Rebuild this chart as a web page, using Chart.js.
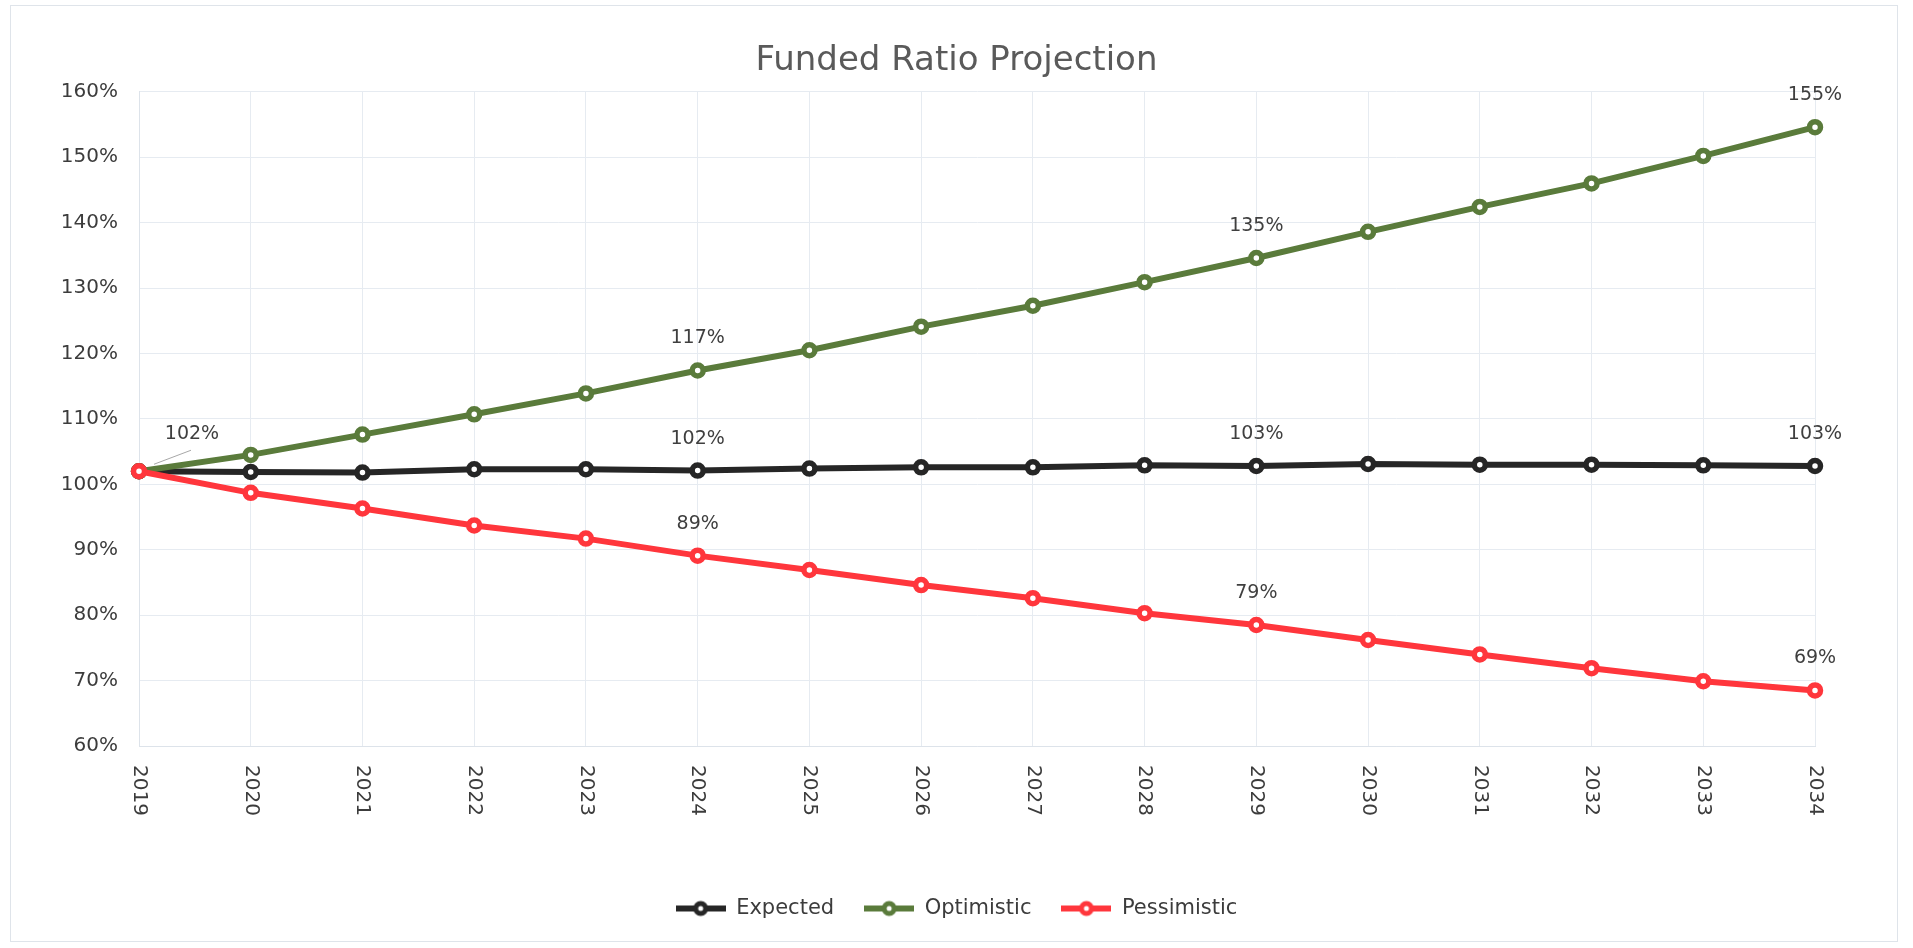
<!DOCTYPE html>
<html>
<head>
<meta charset="utf-8">
<script src="https://cdn.jsdelivr.net/npm/chart.js@4.4.1/dist/chart.umd.min.js"></script>
<style>
  html, body { margin: 0; padding: 0; background: #ffffff; }
  #wrap { width: 1913px; height: 948px; position: relative; }
</style>
</head>
<body>
<div id="wrap"><canvas id="c" width="1913" height="948"></canvas></div>
<script>
// ---- Data ----
const years = ['2019','2020','2021','2022','2023','2024','2025','2026','2027','2028','2029','2030','2031','2032','2033','2034'];
const expected    = [102.0, 101.9, 101.8, 102.3, 102.3, 102.1, 102.4, 102.6, 102.6, 102.9, 102.8, 103.1, 103.0, 103.0, 102.9, 102.8];
const optimistic  = [102.0, 104.5, 107.6, 110.7, 113.9, 117.4, 120.5, 124.1, 127.3, 130.9, 134.6, 138.6, 142.4, 146.0, 150.2, 154.6];
const pessimistic = [102.0, 98.7, 96.3, 93.7, 91.7, 89.1, 86.9, 84.6, 82.6, 80.3, 78.5, 76.2, 74.0, 71.9, 69.9, 68.5];
const seriesNames = ['Expected', 'Optimistic', 'Pessimistic'];
const labelledIdx = [5, 10, 15];
const yMin = 60, yMax = 160, yStep = 10;

const colors = ['#262626', '#5a7b3b', '#ff363c'];
const FONT = "'DejaVu Sans', sans-serif";

function legendSymbol(color) {
  const cv = document.createElement('canvas');
  cv.width = 50; cv.height = 20;
  const g = cv.getContext('2d');
  g.strokeStyle = color; g.lineWidth = 6; g.lineCap = 'butt';
  g.beginPath(); g.moveTo(0, 10); g.lineTo(50, 10); g.stroke();
  g.beginPath(); g.arc(25, 10, 5, 0, Math.PI * 2);
  g.fillStyle = '#ffffff'; g.fill();
  g.lineWidth = 5; g.stroke();
  return cv;
}
const symbols = colors.map(legendSymbol);

const framePlugin = {
  id: 'frame',
  beforeDraw(chart) {
    const ctx = chart.ctx;
    ctx.save();
    ctx.fillStyle = '#ffffff';
    ctx.fillRect(0, 0, chart.width, chart.height);
    ctx.strokeStyle = '#dfe4ea';
    ctx.lineWidth = 1;
    ctx.strokeRect(10.5, 5.5, 1887, 936);
    ctx.restore();
  }
};

const xLabelPlugin = {
  id: 'xlabels',
  afterDraw(chart) {
    const ctx = chart.ctx;
    const xs = chart.scales.x;
    const top = chart.chartArea.bottom + 19;
    ctx.save();
    ctx.font = "20px " + FONT;
    ctx.fillStyle = '#3c3c3c';
    ctx.textAlign = 'left';
    ctx.textBaseline = 'middle';
    years.forEach((lab, i) => {
      const x = xs.getPixelForValue(i);
      ctx.save();
      ctx.translate(x, top);
      ctx.rotate(Math.PI / 2);
      ctx.fillText(lab, 0, 0);
      ctx.restore();
    });
    ctx.restore();
  }
};

const dataLabelPlugin = {
  id: 'dlabels',
  afterDatasetsDraw(chart) {
    const ctx = chart.ctx;
    ctx.save();
    ctx.font = "19px " + FONT;
    ctx.fillStyle = '#3f3f3f';
    ctx.textAlign = 'center';
    ctx.textBaseline = 'middle';
    chart.data.datasets.forEach((ds, d) => {
      const meta = chart.getDatasetMeta(d);
      labelledIdx.forEach(i => {
        const pt = meta.data[i];
        ctx.fillText(Math.round(ds.data[i]) + '%', pt.x, pt.y - 32);
      });
    });
    // first point label with leader line
    const p0 = chart.getDatasetMeta(0).data[0];
    ctx.strokeStyle = '#a8a8a8';
    ctx.lineWidth = 1;
    ctx.beginPath();
    ctx.moveTo(p0.x + 15, p0.y - 7);
    ctx.lineTo(p0.x + 52, p0.y - 21);
    ctx.stroke();
    ctx.fillText(Math.round(expected[0]) + '%', p0.x + 53, p0.y - 37);
    ctx.restore();
  }
};

function mkDataset(i, data, order) {
  return {
    label: seriesNames[i],
    data: data,
    yAxisID: 'y',
    borderColor: colors[i],
    backgroundColor: colors[i],
    borderWidth: 6,
    pointRadius: 5.5,
    pointBorderWidth: 5.5,
    pointBackgroundColor: '#ffffff',
    pointBorderColor: colors[i],
    pointHoverRadius: 5.5,
    tension: 0,
    order: order
  };
}

new Chart(document.getElementById('c'), {
  type: 'line',
  data: {
    labels: years,
    datasets: [
      mkDataset(0, expected, 2),
      mkDataset(1, optimistic, 1),
      mkDataset(2, pessimistic, 0)
    ]
  },
  options: {
    responsive: false,
    animation: false,
    events: [],
    layout: { padding: { left: 58, right: 58, top: 0, bottom: 19 } },
    plugins: {
      title: {
        display: true,
        text: 'Funded Ratio Projection',
        color: '#5a5a5a',
        font: { family: FONT, size: 34, weight: 'normal' },
        padding: { top: 41, bottom: 10 }
      },
      legend: {
        display: true,
        position: 'bottom',
        labels: {
          color: '#3c3c3c',
          font: { family: FONT, size: 21 },
          usePointStyle: true,
          pointStyleWidth: 50,
          padding: 30,
          generateLabels(chart) {
            return chart.data.datasets.map((ds, i) => ({
              text: ds.label,
              pointStyle: symbols[i],
              fillStyle: colors[i],
              strokeStyle: colors[i],
              lineWidth: 0,
              hidden: false,
              datasetIndex: i,
              fontColor: '#3c3c3c'
            }));
          }
        }
      },
      tooltip: { enabled: false }
    },
    scales: {
      x: {
        type: 'category',
        offset: false,
        grid: { color: '#e6ebf1', lineWidth: 1, drawTicks: false },
        border: { color: '#dde3ea' },
        ticks: { display: false },
        afterFit(scale) { scale.height = 122; }
      },
      y: {
        position: 'left',
        min: yMin, max: yMax,
        grid: { color: '#e6ebf1', lineWidth: 1, drawTicks: false },
        border: { color: '#dde3ea' },
        ticks: {
          stepSize: yStep,
          padding: 21,
          color: '#3c3c3c',
          font: { family: FONT, size: 20 },
          callback: v => v + '%'
        },
        afterFit(scale) { scale.width = 81; }
      },
      yRight: {
        type: 'linear',
        position: 'right',
        display: true,
        min: yMin, max: yMax,
        grid: { display: false, drawOnChartArea: false, drawTicks: false },
        border: { display: false },
        ticks: { display: false },
        afterFit(scale) { scale.width = 40; }
      }
    }
  },
  plugins: [framePlugin, xLabelPlugin, dataLabelPlugin]
});
</script>
</body>
</html>
